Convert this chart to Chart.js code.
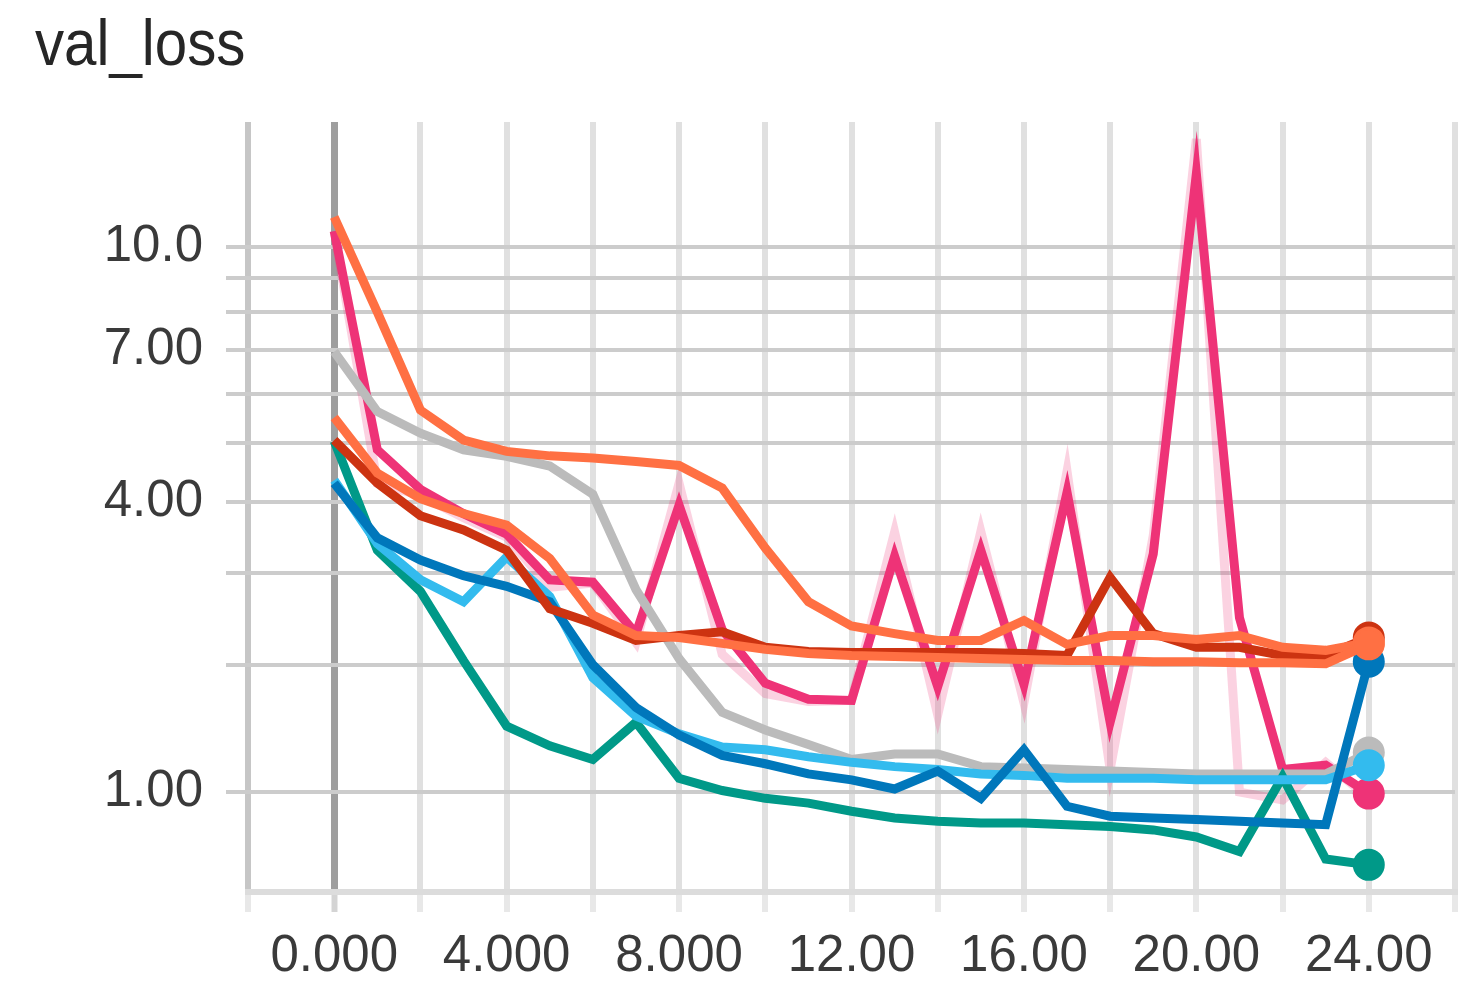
<!DOCTYPE html>
<html>
<head>
<meta charset="utf-8">
<title>val_loss</title>
<script src="https://cdn.jsdelivr.net/npm/chart.js@4.4.1/dist/chart.umd.min.js"></script>
<style>
  html, body { margin: 0; padding: 0; background: #ffffff; }
  #wrap { position: relative; width: 1459px; height: 985px; overflow: hidden; }
  #title {
    position: absolute; left: 35px; top: 11px;
    font: 64px "Liberation Sans", Arial, sans-serif; line-height: 1;
    color: #262626; transform: scaleX(0.91); transform-origin: left top;
    white-space: nowrap;
  }
  canvas { position: absolute; left: 0; top: 0; }
</style>
</head>
<body>
<div id="wrap">
  <div id="title">val_loss</div>
  <canvas id="chart" width="1459" height="985"></canvas>
</div>
<script>
// Training steps (epochs)
const steps = [0, 1, 2, 3, 4, 5, 6, 7, 8, 9, 10, 11, 12, 13, 14, 15, 16, 17, 18, 19, 20, 21, 22, 23, 24];

// Smoothed validation loss per run
const lossOrangeHigh = [10.96, 8.0, 5.65, 5.06, 4.85, 4.77, 4.73, 4.67, 4.6, 4.22, 3.33, 2.66, 2.39, 2.31, 2.24, 2.24, 2.45, 2.2, 2.29, 2.29, 2.25, 2.29, 2.17, 2.14, 2.22];
const lossOrangeLow  = [5.5, 4.47, 4.05, 3.82, 3.65, 3.19, 2.51, 2.29, 2.27, 2.21, 2.15, 2.11, 2.09, 2.08, 2.07, 2.06, 2.05, 2.04, 2.04, 2.03, 2.03, 2.02, 2.02, 2.01, 2.2];
const lossRed        = [5.06, 4.3, 3.79, 3.58, 3.3, 2.58, 2.42, 2.24, 2.29, 2.33, 2.17, 2.13, 2.12, 2.12, 2.12, 2.12, 2.11, 2.09, 2.95, 2.31, 2.17, 2.17, 2.09, 2.09, 2.27];
const lossPink       = [10.5, 4.88, 4.2, 3.82, 3.52, 2.92, 2.89, 2.31, 3.95, 2.35, 1.83, 1.69, 1.68, 3.22, 1.8, 3.3, 1.82, 4.15, 1.5, 3.25, 12.5, 2.48, 1.15, 1.18, 0.99];
const lossGrey       = [6.97, 5.62, 5.19, 4.88, 4.76, 4.59, 4.12, 2.8, 2.06, 1.58, 1.44, 1.33, 1.22, 1.26, 1.26, 1.17, 1.16, 1.15, 1.14, 1.13, 1.12, 1.12, 1.12, 1.12, 1.27];
const lossCyan       = [4.35, 3.39, 2.92, 2.66, 3.21, 2.72, 1.88, 1.55, 1.41, 1.31, 1.29, 1.24, 1.2, 1.17, 1.15, 1.12, 1.11, 1.09, 1.09, 1.09, 1.08, 1.08, 1.08, 1.08, 1.18];
const lossBlue       = [4.3, 3.47, 3.17, 2.97, 2.84, 2.66, 2.0, 1.62, 1.4, 1.25, 1.19, 1.12, 1.08, 1.02, 1.14, 0.96, 1.29, 0.91, 0.85, 0.84, 0.83, 0.82, 0.81, 0.8, 2.03];
const lossTeal       = [5.04, 3.3, 2.78, 2.04, 1.47, 1.32, 1.22, 1.5, 1.09, 1.01, 0.96, 0.93, 0.88, 0.84, 0.82, 0.81, 0.81, 0.8, 0.79, 0.77, 0.73, 0.65, 1.1, 0.61, 0.58];

// Unsmoothed values of the noisy run, drawn faintly underneath
const lossPinkRaw    = [10.5, 4.3, 4.1, 3.76, 3.48, 2.83, 2.88, 2.22, 4.3, 2.1, 1.74, 1.67, 1.68, 3.55, 1.56, 3.56, 1.66, 4.5, 1.15, 3.5, 13.9, 1.0, 0.95, 1.2, 0.96];

// Axis ticks
const yGridValues = [1, 2, 3, 4, 5, 6, 7, 8, 9, 10];
const yLabelValues = [1, 4, 7, 10];
const xLabelEvery = 4;

// Modified log transform (log10 above the pivot, flattened towards zero below it)
const PIVOT = 10;
function modLog(v) {
  const s = v < 0 ? -1 : 1;
  let a = Math.abs(v);
  if (a < PIVOT) a += (PIVOT - a) / PIVOT;
  return s * Math.log10(a);
}
function modLogInv(t) {
  const s = t < 0 ? -1 : 1;
  let a = Math.pow(10, Math.abs(t));
  if (a < PIVOT) a = (a - 1) * PIVOT / (PIVOT - 1);
  return s * a;
}

class ModifiedLogScale extends Chart.Scale {
  determineDataLimits() {
    const { min, max } = this.getMinMax(false);
    this.min = (this.options.min !== undefined) ? this.options.min : min;
    this.max = (this.options.max !== undefined) ? this.options.max : max;
  }
  buildTicks() {
    return yGridValues.filter(v => v >= this.min && v <= this.max).map(v => ({ value: v }));
  }
  getLabelForValue(v) { return String(v); }
  configure() {
    super.configure();
    this._t0 = modLog(this.min);
    this._t1 = modLog(this.max);
  }
  getPixelForValue(v) {
    if (v === null || v === undefined || isNaN(v)) return NaN;
    return this.getPixelForDecimal((modLog(v) - this._t0) / (this._t1 - this._t0));
  }
  getValueForPixel(p) {
    return modLogInv(this._t0 + this.getDecimalForPixel(p) * (this._t1 - this._t0));
  }
}
ModifiedLogScale.id = 'modifiedLog';
ModifiedLogScale.defaults = {};
Chart.register(ModifiedLogScale);

function series(values) {
  return values.map((v, i) => ({ x: steps[i], y: v }));
}

const last = steps.length - 1;
function run(values, color) {
  return {
    data: series(values),
    borderColor: color,
    backgroundColor: color,
    borderWidth: 9,
    tension: 0,
    fill: false,
    pointRadius: ctx => (ctx.dataIndex === last ? 15 : 0),
    pointBackgroundColor: color,
    pointBorderColor: color,
    pointBorderWidth: 2,
    pointHoverRadius: 0
  };
}

// First dataset is painted on top
const datasets = [
  run(lossOrangeLow, '#ff7043'),
  run(lossOrangeHigh, '#ff7043'),
  run(lossRed, '#cc3311'),
  run(lossBlue, '#0077bb'),
  run(lossCyan, '#33bbee'),
  run(lossTeal, '#009988'),
  run(lossGrey, '#bbbbbb'),
  run(lossPink, '#ee3377'),
  Object.assign(run(lossPinkRaw, 'rgba(238, 51, 119, 0.22)'), { pointRadius: 0 })
];

const tickFont = { family: '"Liberation Sans", Arial, sans-serif', size: 51 };

new Chart(document.getElementById('chart'), {
  type: 'line',
  data: { datasets },
  options: {
    responsive: false,
    animation: false,
    events: [],
    layout: { autoPadding: false, padding: { top: 122, right: 4, bottom: 0, left: 0 } },
    plugins: { legend: { display: false }, tooltip: { enabled: false }, title: { display: false } },
    scales: {
      x: {
        type: 'linear',
        min: -2,
        max: 26,
        afterFit: s => { s.height = 93; s.paddingLeft = 0; s.paddingRight = 0; },
        ticks: {
          stepSize: 2,
          autoSkip: false,
          maxRotation: 0,
          padding: 14,
          color: '#3a3a3a',
          font: tickFont,
          callback: v => (v >= 0 && v <= 24 && v % xLabelEvery === 0) ? Number(v).toPrecision(4) : ''
        },
        grid: {
          drawTicks: true,
          tickLength: 20,
          color: c => (c.tick && c.tick.value === 0) ? '#9e9e9e' : (c.tick && c.tick.value === -2 ? '#c6c6c6' : '#e0e0e0'),
          tickColor: c => (c.tick && c.tick.value === 0) ? '#d4d4d4' : '#e8e8e8',
          lineWidth: c => (c.tick && c.tick.value === 0) ? 7 : 6,
          tickWidth: 6
        },
        border: { display: true, color: '#dcdcdc', width: 6 }
      },
      y: {
        type: 'modifiedLog',
        min: 0.4457,
        max: 14.64,
        afterFit: s => { s.width = 248; s.paddingTop = 0; s.paddingBottom = 0; },
        ticks: {
          padding: 23,
          color: '#3a3a3a',
          font: tickFont,
          callback: v => yLabelValues.includes(v) ? Number(v).toPrecision(3) : ''
        },
        grid: {
          drawTicks: true,
          tickLength: 22,
          color: '#cccccc',
          tickColor: '#cccccc',
          lineWidth: 4,
          tickWidth: 4
        },
        border: { display: false }
      }
    }
  }
});
</script>
</body>
</html>
